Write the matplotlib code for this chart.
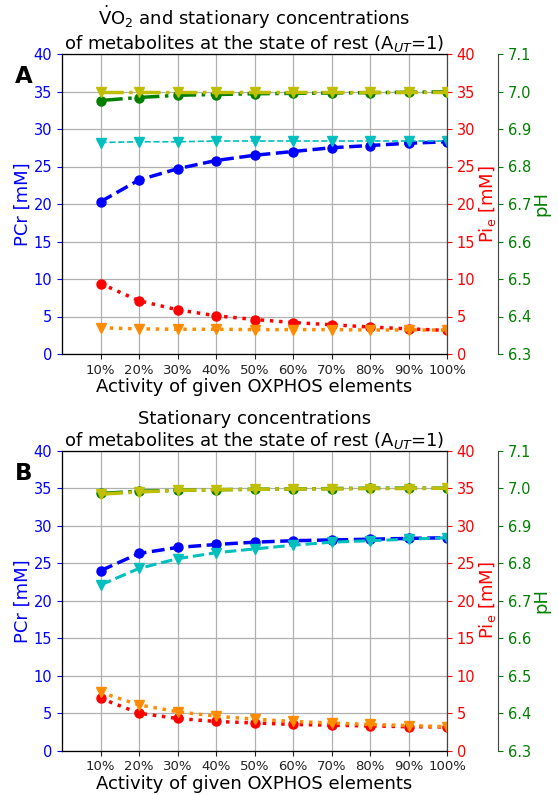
import matplotlib
matplotlib.use("Agg")
import matplotlib.pyplot as plt

activity = [1, 2, 3, 4, 5, 6, 7, 8, 9, 10]
activity_labels = ["10%", "20%", "30%", "40%", "50%", "60%", "70%", "80%", "90%", "100%"]

# Panel A
pcr_a_1 = [20.3, 23.2, 24.7, 25.8, 26.5, 27.0, 27.5, 27.8, 28.1, 28.3]
pcr_a_2 = [28.2, 28.3, 28.3, 28.4, 28.4, 28.4, 28.4, 28.4, 28.4, 28.4]
pi_a_1 = [9.4, 7.1, 5.9, 5.1, 4.6, 4.2, 3.9, 3.6, 3.35, 3.15]
pi_a_2 = [3.5, 3.35, 3.3, 3.3, 3.25, 3.25, 3.25, 3.2, 3.2, 3.2]
ph_a_1 = [6.976, 6.984, 6.990, 6.992, 6.994, 6.995, 6.996, 6.997, 6.998, 6.999]
ph_a_2 = [7.0, 7.0, 7.0, 7.0, 7.0, 7.0, 7.0, 7.0, 7.0, 7.0]

# Panel B
pcr_b_1 = [24.0, 26.3, 27.1, 27.5, 27.8, 28.0, 28.1, 28.2, 28.3, 28.4]
pcr_b_2 = [22.1, 24.3, 25.6, 26.4, 26.9, 27.4, 27.8, 28.0, 28.2, 28.4]
pi_b_1 = [7.0, 5.0, 4.3, 3.9, 3.7, 3.5, 3.4, 3.3, 3.2, 3.15]
pi_b_2 = [7.8, 6.1, 5.2, 4.6, 4.2, 3.9, 3.7, 3.5, 3.35, 3.2]
ph_b_1 = [6.986, 6.992, 6.994, 6.996, 6.997, 6.998, 6.999, 7.0, 7.0, 7.0]
ph_b_2 = [6.984, 6.990, 6.994, 6.996, 6.997, 6.998, 6.998, 6.999, 6.999, 7.0]

titles = [r"$\dot{\mathrm{V}}$O$_2$ and stationary concentrations" "\n"
          r"of metabolites at the state of rest (A$_{UT}$=1)",
          "Stationary concentrations\n"
          r"of metabolites at the state of rest (A$_{UT}$=1)"]
letters = ["A", "B"]

W, H = 558, 795
fig = plt.figure(figsize=(W / 100, H / 100), dpi=100)

panels = [
    (pcr_a_1, pcr_a_2, pi_a_1, pi_a_2, ph_a_1, ph_a_2, 1.2),
    (pcr_b_1, pcr_b_2, pi_b_1, pi_b_2, ph_b_1, ph_b_2, 2.2),
]
bottoms = [1 - 354 / H, 1 - 750.7 / H]

for i, (p1, p2, q1, q2, h1, h2, cyan_lw) in enumerate(panels):
    ax = fig.add_axes([62 / W, bottoms[i], 385 / W, 300 / H])
    ax.plot(activity, p1, color="b", ls="--", lw=2.5, marker="o", ms=6.5)
    ax.plot(activity, p2, color="c", ls="--", lw=cyan_lw, marker="v", ms=6.5)
    ax.set_xlim(0, 10)
    ax.set_ylim(0, 40)
    ax.set_yticks(range(0, 41, 5))
    ax.set_xticks(activity)
    ax.set_xticklabels(activity_labels, fontsize=9.5)
    ax.grid(True, color="#b0b0b0", lw=0.9)
    ax.set_ylabel("PCr [mM]", color="b", fontsize=13, labelpad=1)
    ax.tick_params(axis="y", colors="b", labelsize=10.5)
    ax.tick_params(axis="x", labelsize=9.5, colors="#222222")
    ax.set_xlabel("Activity of given OXPHOS elements", fontsize=13, labelpad=1)
    ax.set_title(titles[i], fontsize=13, pad=3, linespacing=1.1)
    ax.text(-0.122, 0.903, letters[i], transform=ax.transAxes, fontsize=16.5,
            fontweight="bold", ha="left", va="baseline")
    for s in ["bottom", "top", "right"]:
        ax.spines[s].set_color("#444444")

    ax2 = ax.twinx()
    ax2.plot(activity, q1, color="r", ls=":", lw=2.5, marker="o", ms=6.5)
    ax2.plot(activity, q2, color="darkorange", ls=":", lw=2.5, marker="v", ms=6.5)
    ax2.set_ylim(0, 40)
    ax2.set_yticks(range(0, 41, 5))
    ax2.set_ylabel(r"Pi$_{\mathrm{e}}$ [mM]", color="r", fontsize=13, labelpad=1)
    ax2.tick_params(axis="y", colors="r", labelsize=10.5)
    ax2.spines["right"].set_color("#444444")

    ax3 = ax.twinx()
    ax3.spines["right"].set_position(("axes", 1.132))
    ax3.spines["right"].set_color("#444444")
    ax3.plot(activity, h1, color="g", ls="-.", lw=2.5, marker="o", ms=6.5)
    ax3.plot(activity, h2, color="y", ls="-.", lw=2.5, marker="v", ms=6.5)
    ax3.set_ylim(6.3, 7.1)
    ax3.set_yticks([6.3, 6.4, 6.5, 6.6, 6.7, 6.8, 6.9, 7.0, 7.1])
    ax3.set_yticklabels(["6.3", "6.4", "6.5", "6.6", "6.7", "6.8", "6.9", "7.0", "7.1"])
    ax3.set_ylabel("pH", color="g", fontsize=13, labelpad=1)
    ax3.tick_params(axis="y", colors="g", labelsize=10.5)

fig.savefig("out.png", dpi=100)
